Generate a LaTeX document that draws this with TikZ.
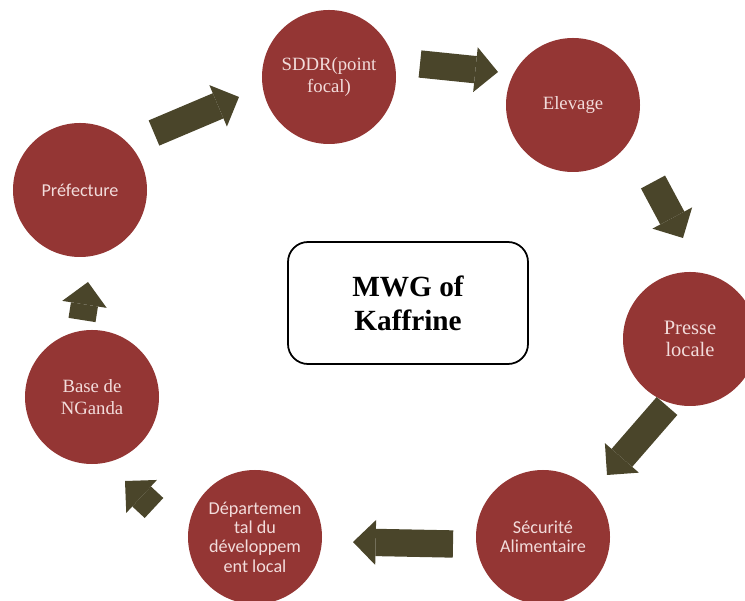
\documentclass[tikz,border=0pt]{standalone}
\usepackage{fontspec}
\setmainfont{Liberation Serif}
\setsansfont{Carlito}
\usetikzlibrary{arrows.meta}
\definecolor{discred}{HTML}{943634}
\definecolor{flowolive}{HTML}{4A452A}
\definecolor{labelpink}{HTML}{F2DCDB}
\newcommand{\HubTitle}{MWG of\\Kaffrine}
\def\DiscSize{4.02cm}
\tikzset{
  disc/.style={
    circle,
    fill=discred,
    minimum size=\DiscSize,
    inner sep=0pt,
    text=labelpink,
    align=center
  },
  sanslabel/.style={font=\sffamily\fontsize{15.5}{16.5}\selectfont},
  seriflabel/.style={font=\fontsize{16}{18.5}\selectfont},
  flow/.style={draw=flowolive,line width=0.82cm,
    -{Triangle[width=1.35cm,length=0.68cm,line width=0pt]}},
  hubbox/.style={
    draw=black,
    line width=1.5pt,
    rounded corners=0.6cm,
    minimum width=7.2cm,
    minimum height=3.66cm,
    align=center,
    font=\bfseries\fontsize{25}{29}\selectfont
  }
}

\begin{document}
\begin{tikzpicture}[x=0.03cm,y=-0.03cm]
  \useasboundingbox (0,0) rectangle (745,601);
  \clip (0,0) rectangle (745,601);

  \node[hubbox] (hub) at (408,303) {\HubTitle};

  \node[disc,sanslabel] (pref) at (80,190) {Préfecture};
  \node[disc,seriflabel] (sddr) at (329,77) {SDDR(point\\focal)};
  \node[disc,seriflabel] (elev) at (573,105) {Elevage};
  \node[disc,seriflabel,font=\fontsize{17.5}{19}\selectfont] (presse) at (690,339) {Presse\\locale};
  \node[disc,sanslabel] (secu) at (543,537) {Sécurité\\Alimentaire};
  \node[disc,sanslabel] (dept) at (255,537) {Départemen\\tal du\\développem\\ent local};
  \node[disc,seriflabel] (base) at (92,397) {Base de\\NGanda};

  % arrow ends, clockwise from the prefecture
  \coordinate (a1s) at (154,133); \coordinate (a1e) at (239,97);
  \coordinate (a2s) at (420,64);  \coordinate (a2e) at (498,72);
  \coordinate (a3s) at (653,182); \coordinate (a3e) at (683,238);
  \coordinate (a4s) at (667,406); \coordinate (a4e) at (607,475);
  \coordinate (a5s) at (453,544); \coordinate (a5e) at (353,542);
  \coordinate (a6s) at (154,508); \coordinate (a6e) at (125,481);
  \coordinate (a7s) at (82,320);  \coordinate (a7e) at (88,282);

  \foreach \i in {1,...,7}
    \draw[flow] (a\i s) -- (a\i e);
\end{tikzpicture}
\end{document}
